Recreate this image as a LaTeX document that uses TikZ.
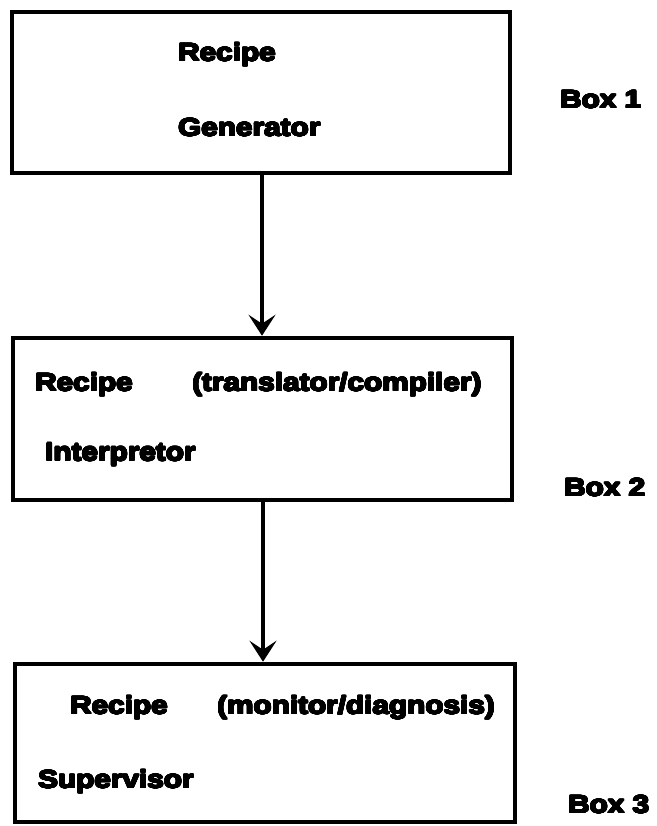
\documentclass[tikz,border=0pt]{standalone}
\usepackage{fontspec}
\usepackage{contour}
\usetikzlibrary{arrows.meta}
\newfontfamily\heavysans[FakeStretch=1.19]{Liberation Sans Bold}
\contourlength{0.7pt}
\contournumber{24}
\newcommand{\heavy}[1]{\contour{black}{#1}}
\begin{document}
\begin{tikzpicture}[x=1pt,y=-1pt,
  stagebox/.style={draw=black,line width=4.5pt,rectangle,inner sep=0pt},
  lbl/.style={anchor=west,inner sep=0pt,font=\heavysans\fontsize{25}{28}\selectfont},
  flow/.style={line width=3.6pt,-{Stealth[length=21pt,width=27pt,inset=9pt]}}]
  \useasboundingbox (0,0) rectangle (656,826);
  \fill[white] (0,0) rectangle (656,826);

  % the three stages
  \node[stagebox,minimum width=498pt,minimum height=161pt] (b1) at (261,92.5) {};
  \node[stagebox,minimum width=499pt,minimum height=162pt] (b2) at (262.5,419) {};
  \node[stagebox,minimum width=500pt,minimum height=158pt] (b3) at (265,743) {};

  % stage 1 text
  \node[lbl] (g1) at (178,55) {\heavy{Recipe}};
  \node[lbl] (g2) at (178,128) {\heavy{Generator}};
  \node[lbl] (n1) at (560,100) {\heavy{Box 1}};

  % stage 2 text
  \node[lbl] (i1) at (35,385) {\heavy{Recipe}};
  \node[lbl] (i2) at (192,385) {\heavy{(translator/compiler)}};
  \node[lbl] (i3) at (45,455) {\heavy{Interpretor}};
  \node[lbl] (n2) at (564,488) {\heavy{Box 2}};

  % stage 3 text
  \node[lbl] (s1) at (70,708) {\heavy{Recipe}};
  \node[lbl] (s2) at (217,708) {\heavy{(monitor/diagnosis)}};
  \node[lbl] (s3) at (38,782) {\heavy{Supervisor}};
  \node[lbl] (n3) at (568,805) {\heavy{Box 3}};

  % connectors
  \coordinate (a1s) at (b1.south -| 262,0);
  \coordinate (a1e) at (b2.north -| 262,0);
  \coordinate (a2s) at (b2.south -| 263,0);
  \coordinate (a2e) at (b3.north -| 263,0);
  \draw[flow] (a1s) -- (a1e);
  \draw[flow] (a2s) -- (a2e);
\end{tikzpicture}
\end{document}
